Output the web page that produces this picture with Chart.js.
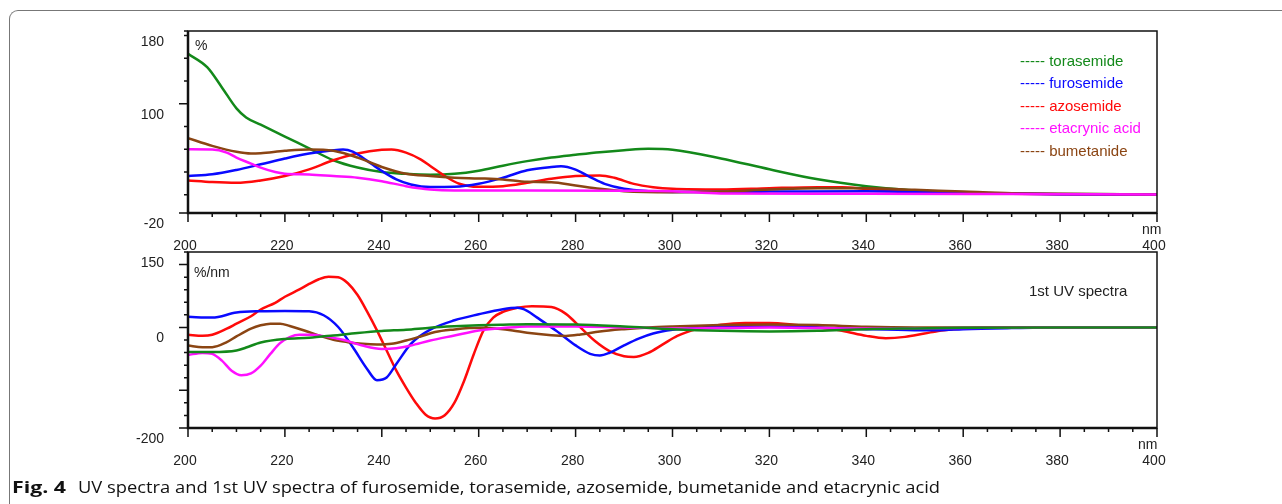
<!DOCTYPE html>
<html>
<head>
<meta charset="utf-8">
<script src="https://cdn.jsdelivr.net/npm/chart.js@4.4.1/dist/chart.umd.min.js"></script>
<style>
  html, body { margin: 0; padding: 0; background: #fff; }
  body { width: 1282px; height: 504px; position: relative; overflow: hidden;
         font-family: "Liberation Sans", Arial, sans-serif; color: #222; }
  .frame { position: absolute; left: 9px; top: 10px; width: 1400px; height: 600px;
           border-top: 1.5px solid #777; border-left: 1.5px solid #777; border-top-left-radius: 9px; }
  canvas { position: absolute; left: 0; }
  #topChart { top: 0; }
  #bottomChart { top: 220px; }
  .txt { position: absolute; font-size: 14px; line-height: 16px; white-space: nowrap; }
  .legend { position: absolute; left: 1020px; top: 50px; font-size: 15px; line-height: 22.4px; }
  .legend div { white-space: nowrap; }
  .caption { position: absolute; top: 478px; font-size: 16px; line-height: 18px; white-space: nowrap;
             font-family: "Open Sans", "Noto Sans", sans-serif; color: #111; transform-origin: 0 0; }
</style>
</head>
<body>
<div class="frame"></div>
<canvas id="topChart" width="1282" height="262"></canvas>
<canvas id="bottomChart" width="1282" height="260"></canvas>

<div class="txt" style="left:195px; top:37px;">%</div>
<div class="txt" style="left:1142px; top:221px;">nm</div>
<div class="txt" style="left:194px; top:264px;">%/nm</div>
<div class="txt" style="left:1138px; top:436px;">nm</div>
<div class="txt" style="left:1029px; top:283px; font-size:15px;">1st UV spectra</div>
<div class="legend" id="legend"></div>
<div class="caption" id="capBold" style="left:12px; font-weight:bold;">Fig. 4</div>
<div class="caption" id="capText" style="left:78px;">UV spectra and 1st UV spectra of furosemide, torasemide, azosemide, bumetanide and etacrynic acid</div>

<script>
// 시리즈 이름과 색상
const seriesNames = ['torasemide', 'furosemide', 'azosemide', 'etacrynic acid', 'bumetanide'];
const seriesColors = ['#13891a', '#0a0aff', '#ff0a0a', '#ff10ff', '#8b4513'];

// 축 눈금
const xLabelTicks = [200, 220, 240, 260, 280, 300, 320, 340, 360, 380, 400];
const topYLabels = [-20, 100, 180];
const topYMinor = [-20, 0, 25, 50, 75, 100, 125, 150, 175, 180];
const topYMajor = [-20, 100];
const botYLabels = [-200, 0, 150];
const botYMinor = [-200, -175, -150, -125, -100, -75, -50, -25, 0, 25, 50, 75, 100, 125, 150];
const botYMajor = [-200, -125, 0, 125];

// UV spectra (%)
const toraNm = [200, 204, 207, 210, 212, 215, 220, 225, 230, 235, 240, 245, 250, 255, 260, 265, 270, 275, 280, 285, 290, 295, 300, 310, 320, 330, 340, 350, 360, 380, 400];
const toraUv = [155, 140, 118, 95, 85, 77, 64, 51, 38, 30, 25, 23, 22, 23, 26.5, 32, 37, 41, 44, 46.8, 49, 50.5, 49.5, 40, 28, 17, 9.5, 4.7, 2.5, 1, 0.3];
const furoNm = [200, 205, 210, 215, 220, 225, 230, 232, 234, 236, 238, 240, 243, 246, 250, 255, 260, 265, 270, 275, 277, 280, 283, 286, 290, 295, 300, 320, 340, 360, 380, 400];
const furoUv = [20.6, 22.5, 27.3, 33.5, 39.8, 45.3, 49, 49.8, 47.5, 41, 33.5, 26.2, 17, 11.4, 8.5, 8.8, 12.1, 18.7, 26.9, 30.6, 31.3, 27.6, 19.5, 12, 6.6, 4, 3.2, 3.5, 4, 2, 0.7, 0.3];
const azoNm = [200, 205, 210, 215, 220, 225, 230, 235, 240, 242, 245, 248, 250, 253, 256, 260, 265, 270, 275, 280, 285, 288, 292, 296, 300, 310, 320, 330, 335, 340, 345, 350, 360, 380, 400];
const azoUv = [15.8, 14, 13.2, 15.8, 20.6, 28, 37.9, 45.3, 49.4, 49.8, 46.4, 39, 31.7, 20.6, 12.1, 8.8, 9.5, 13.2, 17.6, 20.6, 21.3, 18.7, 12, 8.4, 6.6, 5.8, 7.3, 8.4, 8.4, 6.6, 4.7, 2.9, 1.8, 0.7, 0.3];
const etaNm = [200, 205, 208, 210, 213, 215, 218, 220, 225, 230, 235, 240, 245, 250, 255, 270, 290, 300, 310, 340, 370, 400];
const etaUv = [50, 49.8, 46.4, 40.9, 34.3, 29.8, 25, 23.2, 22.4, 20.6, 18.8, 15, 9.5, 5.8, 4.7, 4.7, 4.5, 4, 1.5, 1.2, 0.8, 0.3];
const bumNm = [200, 205, 210, 213, 215, 220, 225, 230, 235, 240, 245, 250, 255, 260, 265, 270, 275, 280, 285, 290, 300, 310, 320, 330, 340, 350, 360, 370, 380, 400];
const bumUv = [62.3, 53.8, 47.2, 45.3, 45.7, 48.3, 49.8, 48.3, 40.9, 30.6, 23.2, 20.6, 18.8, 18, 16.9, 14.3, 13.9, 10.3, 6.6, 4, 2.9, 3.6, 5.8, 7.3, 7.3, 5.5, 3.6, 1.8, 1.1, 0.3];

// 1st UV spectra (%/nm)
const toraD1Nm = [200, 205, 210, 212, 215, 220, 225, 230, 235, 240, 245, 250, 255, 260, 265, 270, 280, 290, 300, 310, 320, 330, 340, 350, 360, 380, 400];
const toraD1 = [-49, -49, -46, -40, -30, -23, -20.6, -16, -11, -7, -4.5, -0.5, 2.2, 4.2, 5.5, 6.5, 6, 2, -3.4, -6.7, -8, -6.7, -3.4, -2, -0.7, 0, 0];
const furoD1Nm = [200, 205, 210, 215, 220, 225, 228, 231, 234, 237, 239, 241, 243, 246, 250, 255, 260, 265, 268, 270, 272, 276, 280, 283, 285, 287, 290, 293, 296, 300, 305, 310, 320, 330, 340, 350, 355, 360, 370, 380, 400];
const furoD1 = [21, 19.5, 29.6, 32.3, 32.9, 32.3, 24.2, 0.8, -39, -83, -105, -99.5, -72.8, -32.6, -4.5, 14.2, 26.2, 36.3, 39, 33, 20, -6.7, -35.7, -52.5, -55.9, -50.5, -35.7, -22.2, -12, -4.7, -0.7, 1.3, 2, 0, -3.4, -5.4, -5.4, -3.4, -1.3, 0, 0];
const azoD1Nm = [200, 203, 205, 208, 210, 213, 215, 218, 220, 223, 225, 227, 229, 231, 233, 235, 237, 239, 241, 243, 245, 247, 249, 251, 253, 255, 257, 259, 261, 263, 265, 268, 271, 275, 278, 281, 284, 287, 290, 292, 295, 298, 301, 305, 310, 315, 320, 325, 330, 335, 340, 344, 348, 352, 356, 360, 370, 400];
const azoD1 = [-14.6, -16.6, -14.6, -2.5, 7.5, 22.2, 35.6, 49, 61, 75.7, 86.4, 95.8, 101, 99.8, 87.8, 64.4, 30.9, -5.9, -46, -86, -119.6, -149.7, -173, -181, -174.5, -149.7, -106, -52.7, -5.9, 19.5, 30.9, 39, 42, 40.4, 27, 0, -27, -47, -57.2, -58.6, -50.5, -33.7, -16.8, -3.4, 5.4, 8.7, 8.7, 5.4, 0, -6.7, -16.8, -21.5, -18.8, -12, -5.4, -2, 0, 0];
const etaD1Nm = [200, 203, 205, 207, 209, 211, 213, 215, 217, 219, 221, 223, 225, 228, 232, 236, 240, 243, 246, 250, 255, 260, 265, 270, 280, 290, 300, 320, 340, 360, 380, 400];
const etaD1 = [-54.7, -50.7, -52.7, -66, -86, -95, -91.5, -76, -52.7, -31.3, -19.3, -14.6, -14.6, -17.3, -24.6, -36, -42.7, -41.3, -36, -26, -16, -6, -1.3, 2, 2, 0, -2, 0, -2, -1, 0, 0];
const bumD1Nm = [200, 203, 205, 208, 210, 213, 215, 217, 219, 221, 224, 227, 230, 233, 236, 239, 242, 245, 248, 251, 255, 258, 261, 264, 267, 270, 275, 278, 281, 285, 290, 295, 300, 310, 320, 330, 340, 350, 400];
const bumD1 = [-36, -39.3, -39.3, -29.3, -17.9, -2.5, 4.2, 7.5, 7.5, 2.8, -6, -16, -24.6, -29.3, -32.6, -34, -32.6, -26, -17.9, -9.2, -3.9, -1.3, -0.7, -2.7, -6, -10.7, -15.5, -16.8, -14, -8, -3.4, 0, 2, 4.7, 6, 4.7, 1.3, 0, 0];

function pts(xs, ys) {
    return xs.map((x, i) => ({ x: x, y: ys[i] }));
}

function makeDataset(i, xs, ys) {
    return {
        label: seriesNames[i],
        data: pts(xs, ys),
        borderColor: seriesColors[i],
        borderWidth: 2.5,
        pointRadius: 0,
        fill: false,
        cubicInterpolationMode: 'monotone'
    };
}

// 프레임 + 눈금 그리기
const axisFrame = {
    id: 'axisFrame',
    afterDraw(chart, args, opts) {
        const ctx = chart.ctx;
        const a = chart.chartArea;
        const x = chart.scales.x;
        const y = chart.scales.y;
        ctx.save();
        ctx.strokeStyle = '#111';
        ctx.lineWidth = 1.5;
        ctx.strokeRect(a.left, a.top, a.right - a.left, a.bottom - a.top);
        ctx.lineWidth = 2.5;
        ctx.beginPath();
        ctx.moveTo(a.left, a.top);
        ctx.lineTo(a.left, a.bottom);
        ctx.lineTo(a.right, a.bottom);
        ctx.stroke();
        ctx.lineWidth = 1.5;
        ctx.beginPath();
        for (let nm = 200; nm <= 400; nm += 5) {
            const px = x.getPixelForValue(nm);
            const len = nm % 20 === 0 ? 9 : 4;
            ctx.moveTo(px, a.bottom);
            ctx.lineTo(px, a.bottom + len);
        }
        opts.minor.forEach(v => {
            const py = y.getPixelForValue(v);
            const len = opts.major.includes(v) ? 9 : 4;
            ctx.moveTo(a.left - len, py);
            ctx.lineTo(a.left, py);
        });
        ctx.stroke();
        ctx.restore();
    }
};

function makeOptions(yMin, yMax, yLabels, minor, major, padTop, xHeight) {
    return {
        responsive: false,
        animation: false,
        layout: { padding: { top: padTop, right: 125, left: 0, bottom: 0 } },
        plugins: {
            legend: { display: false },
            tooltip: { enabled: false },
            axisFrame: { minor: minor, major: major }
        },
        scales: {
            x: {
                type: 'linear',
                min: 200,
                max: 400,
                grid: { display: false },
                border: { display: false },
                afterBuildTicks: s => { s.ticks = xLabelTicks.map(v => ({ value: v })); },
                afterFit: s => { s.height = xHeight; s.paddingLeft = 0; s.paddingRight = 0; },
                ticks: {
                    padding: 17,
                    labelOffset: -3,
                    maxRotation: 0,
                    color: '#222',
                    font: { family: '"Liberation Sans", Arial, sans-serif', size: 14 }
                }
            },
            y: {
                min: yMin,
                max: yMax,
                grid: { display: false },
                border: { display: false },
                afterBuildTicks: s => { s.ticks = yLabels.map(v => ({ value: v })); },
                afterFit: s => { s.width = 188; s.paddingTop = 0; s.paddingBottom = 0; },
                ticks: {
                    padding: 16,
                    labelOffset: 11,
                    color: '#222',
                    font: { family: '"Liberation Sans", Arial, sans-serif', size: 14 }
                }
            }
        }
    };
}

new Chart(document.getElementById('topChart'), {
    type: 'line',
    data: {
        datasets: [
            makeDataset(3, etaNm, etaUv),
            makeDataset(4, bumNm, bumUv),
            makeDataset(1, furoNm, furoUv),
            makeDataset(2, azoNm, azoUv),
            makeDataset(0, toraNm, toraUv)
        ]
    },
    options: makeOptions(-20, 180, topYLabels, topYMinor, topYMajor, 31, 49),
    plugins: [axisFrame]
});

new Chart(document.getElementById('bottomChart'), {
    type: 'line',
    data: {
        datasets: [
            makeDataset(0, toraD1Nm, toraD1),
            makeDataset(3, etaD1Nm, etaD1),
            makeDataset(4, bumD1Nm, bumD1),
            makeDataset(1, furoD1Nm, furoD1),
            makeDataset(2, azoD1Nm, azoD1)
        ]
    },
    options: makeOptions(-200, 150, botYLabels, botYMinor, botYMajor, 32, 52),
    plugins: [axisFrame]
});

// 범례 (텍스트 색상 = 시리즈 색상)
const legendEl = document.getElementById('legend');
seriesNames.forEach((name, i) => {
    const row = document.createElement('div');
    row.style.color = seriesColors[i];
    row.textContent = '----- ' + name;
    legendEl.appendChild(row);
});

// 캡션 폭 맞추기
function fitWidth(id, target) {
    const el = document.getElementById(id);
    const w = el.getBoundingClientRect().width;
    if (w > 0) el.style.transform = 'scaleX(' + (target / w) + ')';
}
fitWidth('capBold', 54);
fitWidth('capText', 862);
</script>
</body>
</html>
